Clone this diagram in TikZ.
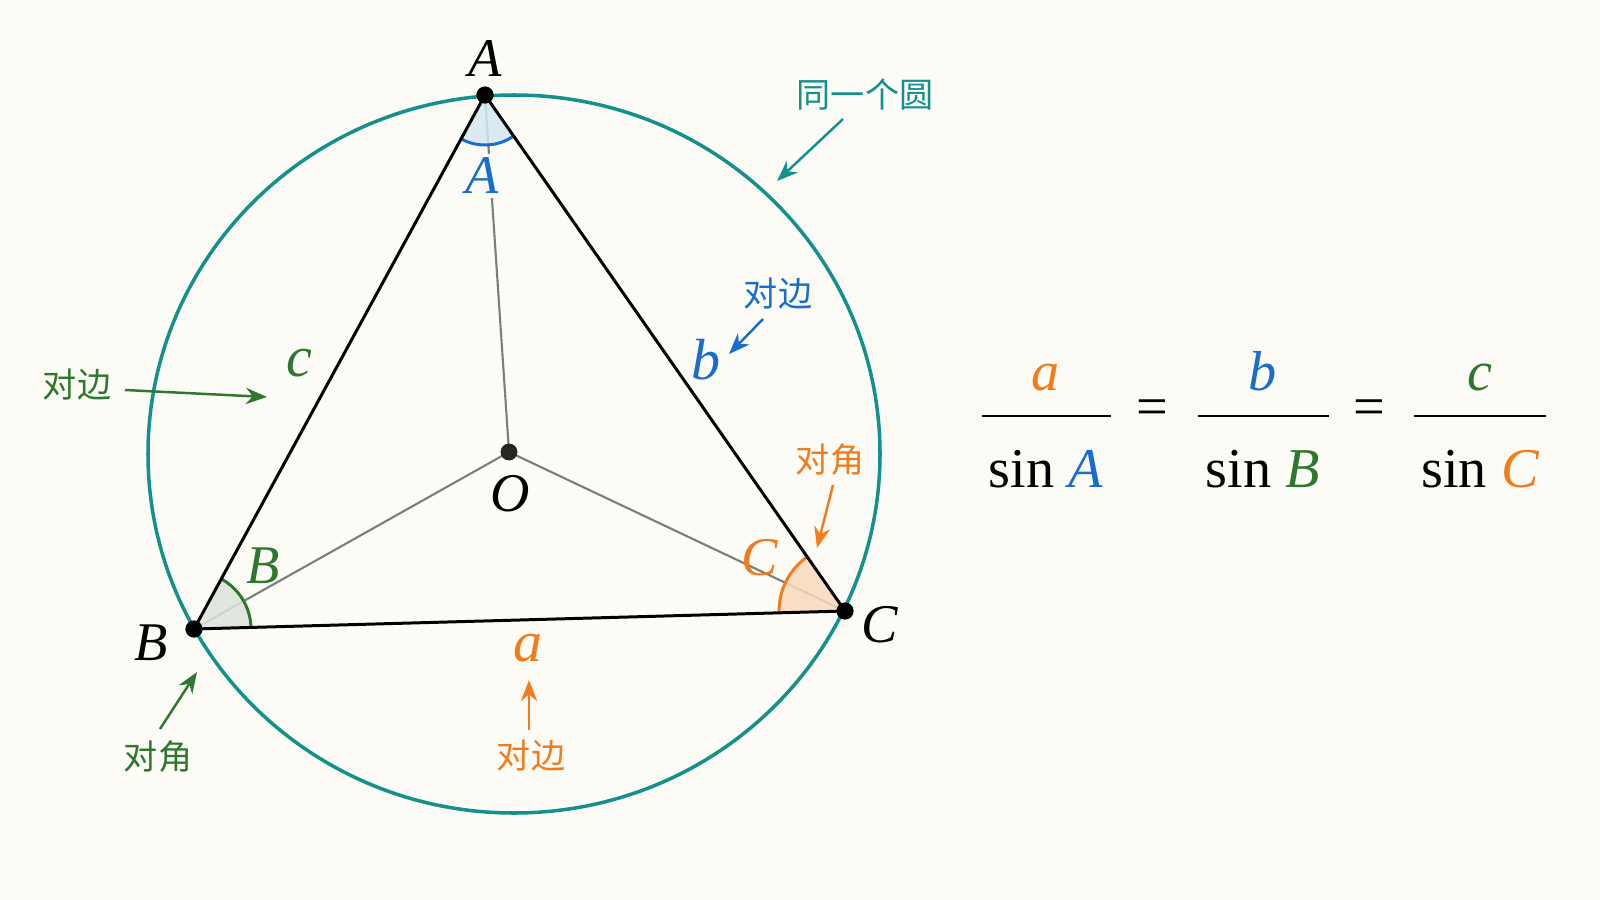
\documentclass[tikz,border=0pt]{standalone}
\usepackage{fontspec}
\setmainfont{Liberation Serif}
\newfontfamily\cjk{Noto Sans CJK SC}
\usetikzlibrary{arrows.meta,calc}
\definecolor{bg}{RGB}{252,251,246}
\definecolor{teal1}{RGB}{20,145,140}
\definecolor{blue1}{RGB}{25,110,205}
\definecolor{green1}{RGB}{45,120,45}
\definecolor{orange1}{RGB}{242,124,28}
\definecolor{gray1}{RGB}{120,128,124}
\definecolor{fillA}{RGB}{214,231,240}
\definecolor{fillB}{RGB}{221,228,220}
\definecolor{fillC}{RGB}{249,217,189}
\begin{document}
\begin{tikzpicture}[x=0.01cm,y=0.01cm,
  lab/.style={font=\fontsize{15.5}{18}\selectfont\itshape, inner sep=1pt},
  sidelab/.style={font=\fontsize{16.5}{19}\selectfont\itshape, inner sep=1pt},
  cjklab/.style={font=\fontsize{9.7}{11}\selectfont\cjk, inner sep=0pt},
  note/.style={-{Stealth[length=6pt,width=4.6pt]}, line width=0.7pt},
  trisides/.style={line width=0.85pt, black, line join=round},
  spoke/.style={line width=0.6pt, gray1},
  dot/.style={circle, fill=black, inner sep=0pt, minimum size=4.9pt},
  formula/.style={font=\fontsize{16}{19}\selectfont, inner sep=0pt},
  fbar/.style={line width=0.75pt, black}
]
\fill[bg] (0,0) rectangle (1600,-900);
\useasboundingbox (0,0) rectangle (1600,-900);

% points
\coordinate (Ap) at (485,-95);
\coordinate (Bp) at (194,-629);
\coordinate (Cp) at (845,-611);
\coordinate (Op) at (509,-452);

% spokes from O
\draw[spoke] (Op) -- (Ap);
\draw[spoke] (Op) -- (Bp);
\draw[spoke] (Op) -- (Cp);

% angle sectors
\fill[fillA, opacity=0.85] (Ap) -- ++(241.4:50) arc[start angle=241.4, end angle=304.9, radius=50] -- cycle;
\fill[fillB, opacity=0.85] (Bp) -- ++(1.6:57) arc[start angle=1.6, end angle=61.4, radius=57] -- cycle;
\fill[fillC, opacity=0.85] (Cp) -- ++(124.9:66) arc[start angle=124.9, end angle=181.6, radius=66] -- cycle;
\draw[blue1, line width=0.85pt] ([shift={(241.4:50)}]Ap) arc[start angle=241.4, end angle=304.9, radius=50];
\draw[green1, line width=0.85pt] ([shift={(1.6:57)}]Bp) arc[start angle=1.6, end angle=61.4, radius=57];
\draw[orange1, line width=0.85pt] ([shift={(124.9:66)}]Cp) arc[start angle=124.9, end angle=181.6, radius=66];

% circle
\draw[teal1, line width=1pt] (514,-454) ellipse [x radius=366, y radius=359];

% triangle
\draw[trisides] (Ap) -- (Bp) -- (Cp) -- cycle;

% dots
\node[dot] (A) at (Ap) {};
\node[dot] (B) at (Bp) {};
\node[dot] (C) at (Cp) {};
\node[dot, minimum size=4.8pt, fill=black!85] (O) at (Op) {};

% vertex labels
\node[lab] (lA) at (485,-59) {A};
\node[lab] (lB) at (151,-643) {B};
\node[lab] (lC) at (880,-625) {C};
\node[lab] (lO) at (510,-494) {O};

% angle labels
\node[lab, text=blue1, fill=bg] (aA) at (482,-176) {A};
\node[lab, text=green1] (aB) at (263,-566) {B};
\node[lab, text=orange1] (aC) at (760,-558) {C};

% side labels
\node[sidelab, text=orange1] (sa) at (528,-648) {a};
\node[sidelab, text=blue1] (sb) at (706,-360) {b};
\node[sidelab, text=green1] (sc) at (299,-363) {c};

% annotations
\node[cjklab, text=teal1] (t1) at (865,-95) {同一个圆};
\coordinate (t1s) at (843,-119);
\coordinate (t1e) at (777,-181);
\draw[note, teal1] (t1s) -- (t1e);

\node[cjklab, text=green1] (t2) at (77,-385) {对边};
\coordinate (t2s) at (125,-390);
\coordinate (t2e) at (267,-397);
\draw[note, green1] (t2s) -- (t2e);

\node[cjklab, text=blue1] (t3) at (778,-294) {对边};
\coordinate (t3s) at (763,-319);
\coordinate (t3e) at (729,-354);
\draw[note, blue1] (t3s) -- (t3e);

\node[cjklab, text=orange1] (t4) at (830,-460) {对角};
\coordinate (t4s) at (833,-485);
\coordinate (t4e) at (817,-548);
\draw[note, orange1] (t4s) -- (t4e);

\node[cjklab, text=green1] (t5) at (158,-757) {对角};
\coordinate (t5s) at (160,-729);
\coordinate (t5e) at (197,-672);
\draw[note, green1] (t5s) -- (t5e);

\node[cjklab, text=orange1] (t6) at (531,-756) {对边};
\coordinate (t6s) at (529,-730);
\coordinate (t6e) at (529,-680);
\draw[note, orange1] (t6s) -- (t6e);

% formula
\node[formula, anchor=base, text=orange1] (n1) at (1046,-390) {\itshape a};
\node[formula, anchor=base] (d1) at (1046,-487) {sin \textcolor{blue1}{\itshape A}};
\coordinate (b1l) at (982,-416);
\coordinate (b1r) at (1111,-416);
\draw[fbar] (b1l) -- (b1r);
\node[formula] (e1) at (1152,-413) {=};

\node[formula, anchor=base, text=blue1] (n2) at (1263,-390) {\itshape b};
\node[formula, anchor=base] (d2) at (1263,-487) {sin \textcolor{green1}{\itshape B}};
\coordinate (b2l) at (1198,-416);
\coordinate (b2r) at (1329,-416);
\draw[fbar] (b2l) -- (b2r);
\node[formula] (e2) at (1369,-413) {=};

\node[formula, anchor=base, text=green1] (n3) at (1480,-390) {\itshape c};
\node[formula, anchor=base] (d3) at (1480,-487) {sin \textcolor{orange1}{\itshape C}};
\coordinate (b3l) at (1414,-416);
\coordinate (b3r) at (1546,-416);
\draw[fbar] (b3l) -- (b3r);
\end{tikzpicture}
\end{document}
